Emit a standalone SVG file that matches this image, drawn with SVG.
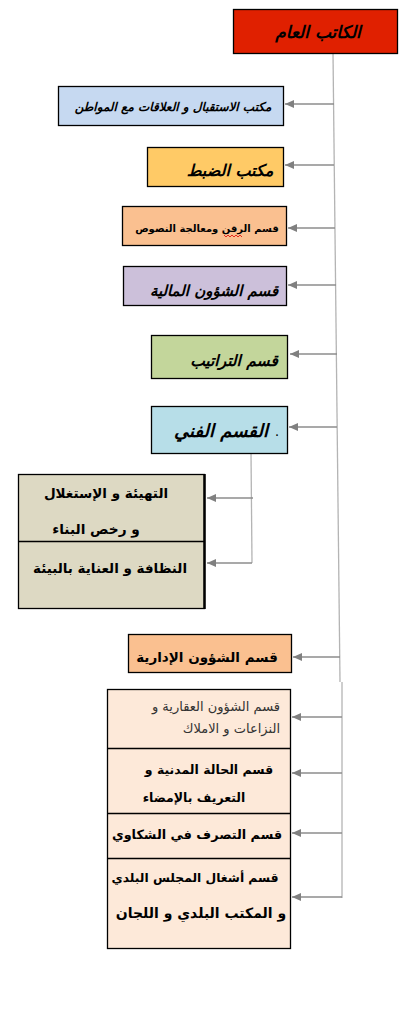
<svg xmlns="http://www.w3.org/2000/svg" width="407" height="1024" viewBox="0 0 407 1024">
<style>
.bx{stroke:#000;stroke-width:1.3}
.t{font-family:"DejaVu Sans",sans-serif;font-weight:bold;fill:#000;text-anchor:middle}
.it{font-style:italic}
.s{font-family:"DejaVu Sans",sans-serif;fill:#333;text-anchor:end;font-size:13px}
.c{fill:none;stroke:#8c8c8c;stroke-width:1.3}
.cl{fill:none;stroke:#b4b4b4;stroke-width:1.3}
</style>
<defs>
<marker id="ah" markerWidth="10" markerHeight="8" refX="9" refY="4" orient="auto" markerUnits="userSpaceOnUse">
<path d="M0,0 L9,4 L0,8 Z" fill="#808080"/>
</marker>
</defs>
<rect width="407" height="1024" fill="#fff"/>
<g id="connectors">
<polyline class="cl" points="333,53 340,682"/>
<polyline class="cl" points="342,682 342,898"/>
<line class="c" x1="334" y1="104" x2="285" y2="104" marker-end="url(#ah)"/>
<line class="c" x1="334" y1="165" x2="285" y2="165" marker-end="url(#ah)"/>
<line class="c" x1="335" y1="228" x2="288" y2="228" marker-end="url(#ah)"/>
<line class="c" x1="336" y1="285" x2="288" y2="285" marker-end="url(#ah)"/>
<line class="c" x1="337" y1="354" x2="290" y2="354" marker-end="url(#ah)"/>
<line class="c" x1="337" y1="427" x2="289" y2="427" marker-end="url(#ah)"/>
<polyline class="cl" points="251,453 252,563"/>
<line class="c" x1="253" y1="498" x2="207" y2="498" marker-end="url(#ah)"/>
<line class="c" x1="252" y1="563" x2="207" y2="563" marker-end="url(#ah)"/>
<line class="c" x1="340" y1="657" x2="293" y2="657" marker-end="url(#ah)"/>
<line class="c" x1="342" y1="717" x2="292" y2="717" marker-end="url(#ah)"/>
<line class="c" x1="342" y1="773" x2="292" y2="773" marker-end="url(#ah)"/>
<line class="c" x1="342" y1="833" x2="292" y2="833" marker-end="url(#ah)"/>
<line class="c" x1="342" y1="897" x2="292" y2="897" marker-end="url(#ah)"/>
</g>
<g id="n0">
<rect class="bx" x="233.5" y="9.5" width="164" height="44" fill="#E02000"/>
<text class="t it" x="318" y="38" font-size="17">الكاتب العام</text>
</g>
<g id="n1">
<rect class="bx" x="58.5" y="86.5" width="225" height="39" fill="#C6D9F1"/>
<text class="t it" x="173" y="111" font-size="12">مكتب الاستقبال و العلاقات مع المواطن</text>
</g>
<g id="n2">
<rect class="bx" x="147.5" y="147.5" width="136" height="39" fill="#FFCA66"/>
<text class="t it" x="230" y="176" font-size="16">مكتب الضبط</text>
</g>
<g id="n3">
<rect class="bx" x="122.5" y="206.5" width="164" height="39" fill="#FAC090"/>
<text class="t" x="207" y="232" font-size="10">قسم الرقن ومعالجة النصوص</text>
<polyline points="224,235 226,237 228,235 230,237 232,235 234,237 236,235 238,237 240,235 242,237" fill="none" stroke="#e00000" stroke-width="0.8"/>
</g>
<g id="n4">
<rect class="bx" x="123.5" y="266.5" width="163" height="39" fill="#CCC0DA"/>
<text class="t it" x="214" y="296" font-size="15">قسم الشؤون المالية</text>
</g>
<g id="n5">
<rect class="bx" x="151.5" y="335.5" width="136" height="43" fill="#C3D69B"/>
<text class="t it" x="234" y="366" font-size="15.5">قسم التراتيب</text>
</g>
<g id="n6">
<rect class="bx" x="151.5" y="406.5" width="136" height="47" fill="#B7DEE8"/>
<text class="t it" x="221" y="437" font-size="18">القسم الفني</text>
<text class="t" x="277" y="436" font-size="8">.</text>
</g>
<g id="n7">
<rect class="bx" x="18.5" y="474.5" width="186" height="134" fill="#DDD9C3"/>
<line x1="204.5" y1="474" x2="204.5" y2="609" stroke="#000" stroke-width="2.5"/>
<line x1="18" y1="541.5" x2="205" y2="541.5" stroke="#000" stroke-width="1.3"/>
<text class="t" x="106" y="498" font-size="13.5">التهيئة و الإستغلال</text>
<text class="t" x="96" y="534" font-size="13.7">و رخص البناء</text>
<text class="t" x="110" y="573" font-size="13.5">النظافة و العناية بالبيئة</text>
</g>
<g id="n8">
<rect class="bx" x="128.5" y="634.5" width="163" height="38" fill="#FAC090"/>
<text class="t" x="207" y="662" font-size="13.5">قسم الشؤون الإدارية</text>
</g>
<g id="n9">
<rect class="bx" x="107.5" y="689.5" width="183" height="259" fill="#FDE9D9"/>
<line x1="107" y1="748.5" x2="291" y2="748.5" stroke="#000" stroke-width="1.3"/>
<line x1="107" y1="813.5" x2="291" y2="813.5" stroke="#000" stroke-width="1.3"/>
<line x1="107" y1="858.5" x2="291" y2="858.5" stroke="#000" stroke-width="1.3"/>
<text class="s" x="280" y="711">قسم الشؤون العقارية و</text>
<text class="s" x="280" y="733">النزاعات و الاملاك</text>
<text class="t" x="209" y="774" font-size="12.5">قسم الحالة المدنية و</text>
<text class="t" x="194" y="802" font-size="12.5">التعريف بالإمضاء</text>
<text class="t" x="197" y="839" font-size="12.8">قسم التصرف في الشكاوي</text>
<text class="t" x="195" y="882" font-size="12.3">قسم أشغال المجلس البلدي</text>
<text class="t" x="201" y="918" font-size="14">و المكتب البلدي و اللجان</text>
</g>
</svg>
